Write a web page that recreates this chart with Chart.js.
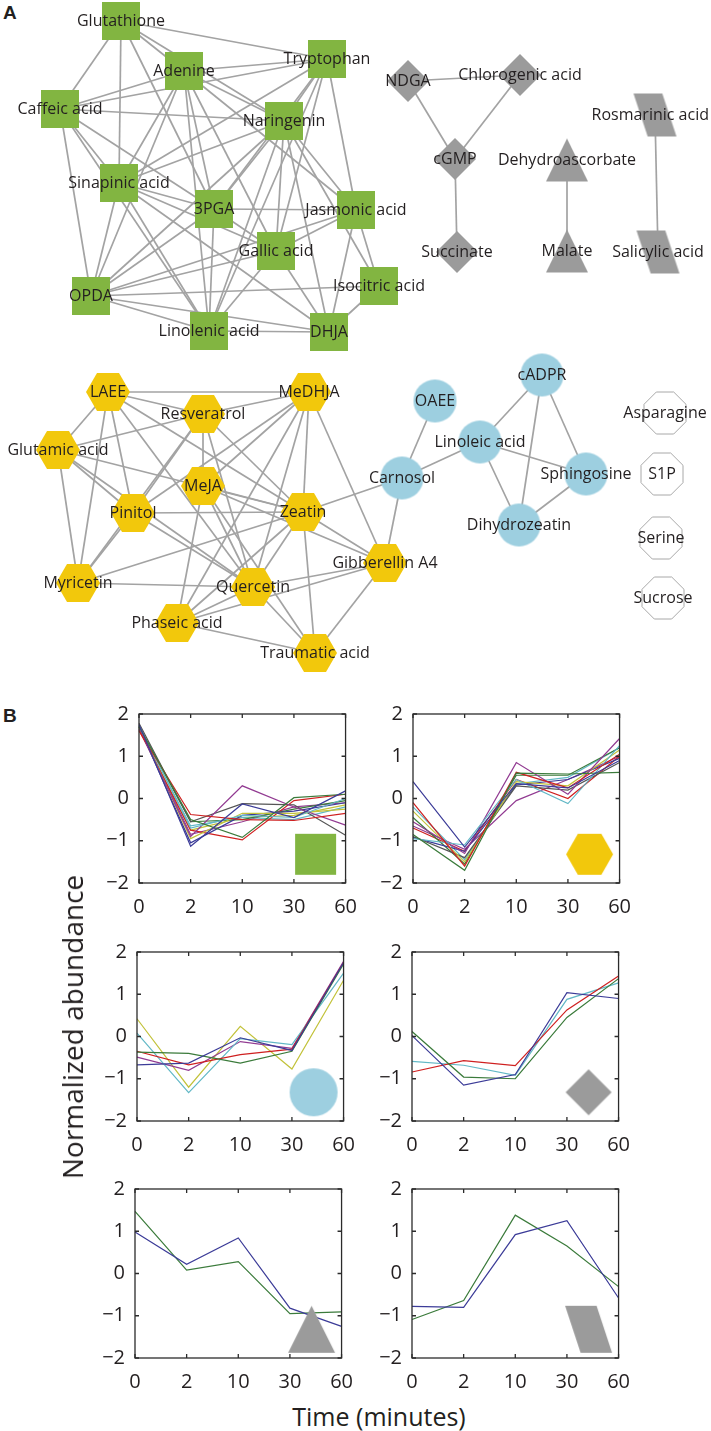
<!DOCTYPE html>
<html>
<head>
<meta charset="utf-8">
<script src="https://cdn.jsdelivr.net/npm/chart.js@4.4.0/dist/chart.umd.min.js"></script>
<style>
  body { margin: 0; background: #fff; width: 711px; height: 1431px; position: relative; overflow: hidden; font-family: "Open Sans", sans-serif; color: #231f20; }
  canvas { position: absolute; }
  .panel { position: absolute; font: bold 19px "Liberation Sans", Arial, sans-serif; line-height: 19px; }
  .axis-title { position: absolute; white-space: nowrap; transform: translate(-50%, -50%); }
</style>
</head>
<body>
<div class="panel" style="left:3px; top:3px;">A</div>
<div class="panel" style="left:3px; top:706px;">B</div>

<canvas id="network" width="711" height="690" style="left:0; top:0;"></canvas>

<canvas id="squarePanel" width="280" height="231" style="left:89px; top:692px;"></canvas>
<canvas id="hexagonPanel" width="280" height="231" style="left:363px; top:692px;"></canvas>
<canvas id="circlePanel" width="280" height="231" style="left:87px; top:930px;"></canvas>
<canvas id="diamondPanel" width="280" height="231" style="left:362px; top:930px;"></canvas>
<canvas id="trianglePanel" width="280" height="231" style="left:85px; top:1167px;"></canvas>
<canvas id="parallelogramPanel" width="280" height="231" style="left:362px; top:1167px;"></canvas>

<div class="axis-title" style="left:72px; top:1027px; font-size:28px; transform: translate(-50%, -50%) rotate(-90deg);">Normalized abundance</div>
<div class="axis-title" style="left:379px; top:1416px; font-size:25px;">Time (minutes)</div>

<script>
// ---- Panel A: network nodes (layout coordinates) and edges ----
const nodeNames = [
    'Glutathione', 'Adenine', 'Tryptophan', 'Caffeic acid', 'Naringenin', 'Sinapinic acid', '3PGA',
    'Jasmonic acid', 'Gallic acid', 'OPDA', 'Isocitric acid', 'Linolenic acid', 'DHJA',
    'NDGA', 'Chlorogenic acid', 'cGMP', 'Succinate',
    'Dehydroascorbate', 'Malate',
    'Rosmarinic acid', 'Salicylic acid',
    'LAEE', 'Resveratrol', 'MeDHJA', 'Glutamic acid', 'MeJA', 'Pinitol', 'Zeatin', 'Myricetin',
    'Quercetin', 'Phaseic acid', 'Gibberellin A4', 'Traumatic acid',
    'OAEE', 'cADPR', 'Linoleic acid', 'Carnosol', 'Sphingosine', 'Dihydrozeatin',
    'Asparagine', 'S1P', 'Serine', 'Sucrose'
];
const nodeX = [
    121, 184, 327, 60, 284, 119, 214,
    356, 276, 91, 379, 209, 329,
    408, 520, 455, 457,
    567, 567,
    655, 658,
    108, 203, 309, 58, 203, 133, 303, 78,
    253, 177, 385, 315,
    435, 542, 480, 402, 586, 519,
    665, 662, 661, 663
];
const nodeY = [
    21, 71, 59, 109, 121, 183, 209,
    210, 251, 296, 286, 331, 332,
    81, 75, 159, 252,
    160, 251,
    115, 252,
    392, 414, 392, 450, 486, 513, 512, 583,
    587, 623, 563, 653,
    401, 375, 442, 478, 474, 525,
    413, 474, 538, 598
];
const nodeGroup = [
    'square', 'square', 'square', 'square', 'square', 'square', 'square',
    'square', 'square', 'square', 'square', 'square', 'square',
    'diamond', 'diamond', 'diamond', 'diamond',
    'triangle', 'triangle',
    'parallelogram', 'parallelogram',
    'hexagon', 'hexagon', 'hexagon', 'hexagon', 'hexagon', 'hexagon', 'hexagon', 'hexagon',
    'hexagon', 'hexagon', 'hexagon', 'hexagon',
    'circle', 'circle', 'circle', 'circle', 'circle', 'circle',
    'octagon', 'octagon', 'octagon', 'octagon'
];
const edges = [
    ['Glutathione', 'Tryptophan'], ['Glutathione', 'Adenine'], ['Glutathione', 'Naringenin'],
    ['Glutathione', 'Caffeic acid'], ['Glutathione', 'Sinapinic acid'], ['Glutathione', '3PGA'],
    ['Adenine', 'Tryptophan'], ['Adenine', 'Caffeic acid'], ['Adenine', 'Naringenin'],
    ['Adenine', 'Sinapinic acid'], ['Adenine', '3PGA'], ['Adenine', 'Gallic acid'],
    ['Adenine', 'Jasmonic acid'], ['Adenine', 'OPDA'], ['Adenine', 'Linolenic acid'],
    ['Tryptophan', 'Caffeic acid'], ['Tryptophan', 'Naringenin'], ['Tryptophan', 'Sinapinic acid'],
    ['Tryptophan', '3PGA'], ['Tryptophan', 'Gallic acid'], ['Tryptophan', 'Jasmonic acid'],
    ['Tryptophan', 'Linolenic acid'],
    ['Caffeic acid', 'Naringenin'], ['Caffeic acid', 'Sinapinic acid'], ['Caffeic acid', '3PGA'],
    ['Caffeic acid', 'OPDA'], ['Caffeic acid', 'Linolenic acid'],
    ['Naringenin', 'Sinapinic acid'], ['Naringenin', '3PGA'], ['Naringenin', 'Gallic acid'],
    ['Naringenin', 'Jasmonic acid'], ['Naringenin', 'OPDA'], ['Naringenin', 'Linolenic acid'],
    ['Naringenin', 'DHJA'], ['Naringenin', 'Isocitric acid'],
    ['Sinapinic acid', '3PGA'], ['Sinapinic acid', 'Gallic acid'], ['Sinapinic acid', 'OPDA'],
    ['Sinapinic acid', 'Linolenic acid'], ['Sinapinic acid', 'DHJA'],
    ['3PGA', 'Jasmonic acid'], ['3PGA', 'Gallic acid'], ['3PGA', 'OPDA'], ['3PGA', 'Linolenic acid'],
    ['Jasmonic acid', 'Gallic acid'], ['Jasmonic acid', 'OPDA'], ['Jasmonic acid', 'Isocitric acid'],
    ['Jasmonic acid', 'DHJA'],
    ['Gallic acid', 'OPDA'], ['Gallic acid', 'Linolenic acid'], ['Gallic acid', 'DHJA'],
    ['OPDA', 'Linolenic acid'], ['OPDA', 'DHJA'], ['OPDA', 'Isocitric acid'],
    ['Linolenic acid', 'DHJA'], ['DHJA', 'Isocitric acid'],

    ['NDGA', 'Chlorogenic acid'], ['NDGA', 'cGMP'], ['Chlorogenic acid', 'cGMP'], ['cGMP', 'Succinate'],
    ['Dehydroascorbate', 'Malate'], ['Rosmarinic acid', 'Salicylic acid'],

    ['LAEE', 'MeDHJA'], ['LAEE', 'Resveratrol'], ['LAEE', 'Glutamic acid'], ['LAEE', 'Pinitol'],
    ['LAEE', 'Myricetin'], ['LAEE', 'Zeatin'], ['LAEE', 'Quercetin'],
    ['Resveratrol', 'MeDHJA'], ['Resveratrol', 'Glutamic acid'], ['Resveratrol', 'MeJA'],
    ['Resveratrol', 'Pinitol'], ['Resveratrol', 'Myricetin'], ['Resveratrol', 'Zeatin'],
    ['Resveratrol', 'Quercetin'],
    ['MeDHJA', 'MeJA'], ['MeDHJA', 'Pinitol'], ['MeDHJA', 'Zeatin'], ['MeDHJA', 'Quercetin'],
    ['MeDHJA', 'Phaseic acid'], ['MeDHJA', 'Gibberellin A4'],
    ['Glutamic acid', 'Pinitol'], ['Glutamic acid', 'Myricetin'], ['Glutamic acid', 'Zeatin'],
    ['Glutamic acid', 'Quercetin'],
    ['MeJA', 'Zeatin'], ['MeJA', 'Quercetin'], ['MeJA', 'Phaseic acid'], ['MeJA', 'Gibberellin A4'],
    ['MeJA', 'Traumatic acid'],
    ['Pinitol', 'Zeatin'], ['Pinitol', 'Quercetin'], ['Pinitol', 'Myricetin'],
    ['Zeatin', 'Myricetin'], ['Zeatin', 'Quercetin'], ['Zeatin', 'Phaseic acid'],
    ['Zeatin', 'Traumatic acid'], ['Zeatin', 'Gibberellin A4'], ['Zeatin', 'Carnosol'],
    ['Myricetin', 'Quercetin'],
    ['Quercetin', 'Phaseic acid'], ['Quercetin', 'Gibberellin A4'], ['Quercetin', 'Traumatic acid'],
    ['Phaseic acid', 'Traumatic acid'], ['Phaseic acid', 'Gibberellin A4'],
    ['Traumatic acid', 'Gibberellin A4'], ['Gibberellin A4', 'Carnosol'],

    ['OAEE', 'Carnosol'], ['Carnosol', 'Linoleic acid'], ['Linoleic acid', 'cADPR'],
    ['Linoleic acid', 'Sphingosine'], ['Linoleic acid', 'Dihydrozeatin'], ['cADPR', 'Sphingosine'],
    ['cADPR', 'Dihydrozeatin'], ['Sphingosine', 'Dihydrozeatin']
];

// ---- Panel B: normalized abundance time courses ----
const timeLabels = ['0', '2', '10', '30', '60'];

const squareSeries = [
    [1.75, -1.13, -0.13, -0.45, 0.18],
    [1.70, -0.50, -0.92, 0.02, 0.10],
    [1.60, -0.38, -0.50, -0.52, -0.35],
    [1.72, -0.70, -0.40, -0.45, 0.00],
    [1.65, -0.90, 0.30, -0.20, -0.63],
    [1.70, -0.95, -0.35, -0.35, -0.25],
    [1.78, -0.55, -0.12, -0.15, -0.87],
    [1.70, -1.05, -0.40, -0.30, -0.10],
    [1.72, -0.55, -0.50, -0.25, -0.05],
    [1.62, -0.75, -0.98, -0.05, 0.10],
    [1.70, -0.65, -0.45, -0.50, -0.20],
    [1.68, -0.85, -0.55, -0.20, -0.10],
    [1.66, -0.75, -0.45, -0.40, -0.15]
];
const hexagonSeries = [
    [0.40, -1.15, 0.35, 0.25, 0.90],
    [-0.85, -1.70, 0.60, 0.58, 0.62],
    [-0.10, -1.60, 0.62, 0.25, 1.05],
    [-0.95, -1.10, 0.45, -0.12, 1.25],
    [-0.55, -1.30, 0.85, 0.10, 1.42],
    [-0.30, -1.50, 0.40, 0.30, 1.15],
    [-0.90, -1.40, 0.30, 0.20, 0.85],
    [-0.92, -1.25, 0.32, 0.45, 0.95],
    [-0.45, -1.55, 0.55, 0.55, 1.20],
    [-0.70, -1.25, 0.45, 0.00, 1.00],
    [-0.20, -1.45, 0.35, 0.50, 1.20],
    [-0.65, -1.20, -0.05, 0.45, 1.00]
];
const circleSeries = [
    [-0.67, -0.63, -0.03, -0.33, 1.75],
    [-0.37, -0.40, -0.63, -0.35, 1.72],
    [-0.35, -0.67, -0.43, -0.30, 1.75],
    [0.08, -1.33, -0.05, -0.19, 1.50],
    [-0.49, -0.80, -0.12, -0.28, 1.78],
    [0.42, -1.20, 0.24, -0.77, 1.33]
];
const diamondSeries = [
    [0.02, -1.15, -0.90, 1.04, 0.90],
    [0.12, -0.96, -1.00, 0.45, 1.37],
    [-0.84, -0.57, -0.69, 0.63, 1.43],
    [-0.59, -0.68, -0.92, 0.88, 1.27]
];
const triangleSeries = [
    [0.98, 0.22, 0.84, -0.82, -1.25],
    [1.47, 0.08, 0.28, -0.95, -0.91]
];
const parallelogramSeries = [
    [-0.78, -0.80, 0.92, 1.25, -0.58],
    [-1.09, -0.64, 1.38, 0.65, -0.31]
];

// MATLAB-like default line colour order
const lineColors = ['#3c3c98', '#3b7b3b', '#cf2020', '#62b8c6', '#923b92', '#c2c23a', '#555555'];

const fillColors = {
    square: '#82b541',
    hexagon: '#f2c80c',
    circle: '#9dcfe0',
    diamond: '#9b9b9b',
    triangle: '#9b9b9b',
    parallelogram: '#9b9b9b',
    octagon: '#ffffff'
};

// Build a node glyph on a small canvas so it can be used as a point style
function shapeCanvas(kind, w, h) {
    const c = document.createElement('canvas');
    c.width = w + 2;
    c.height = h + 2;
    const ctx = c.getContext('2d');
    ctx.translate(1, 1);
    let pts = null;
    ctx.beginPath();
    if (kind === 'square') {
        ctx.rect(0, 0, w, h);
    } else if (kind === 'circle') {
        ctx.arc(w / 2, h / 2, w / 2, 0, Math.PI * 2);
    } else if (kind === 'hexagon') {
        pts = [[0, h / 2], [w / 4, 0], [w * 3 / 4, 0], [w, h / 2], [w * 3 / 4, h], [w / 4, h]];
    } else if (kind === 'diamond') {
        pts = [[w / 2, 0], [w, h / 2], [w / 2, h], [0, h / 2]];
    } else if (kind === 'triangle') {
        pts = [[w / 2, 0], [w, h], [0, h]];
    } else if (kind === 'parallelogram') {
        pts = [[0, 0], [w * 0.67, 0], [w, h], [w * 0.33, h]];
    } else if (kind === 'octagon') {
        const r = w / (2 * Math.cos(Math.PI / 8));
        pts = [];
        for (let k = 0; k < 8; k++) {
            const a = Math.PI / 8 + k * Math.PI / 4;
            pts.push([w / 2 + r * Math.cos(a), h / 2 + r * Math.sin(a)]);
        }
    }
    if (pts) {
        pts.forEach((p, i) => i === 0 ? ctx.moveTo(p[0], p[1]) : ctx.lineTo(p[0], p[1]));
        ctx.closePath();
    }
    ctx.fillStyle = fillColors[kind];
    ctx.fill();
    if (kind === 'octagon') {
        ctx.strokeStyle = '#a8a8a8';
        ctx.lineWidth = 1;
        ctx.stroke();
    }
    return c;
}

const nodeGlyphs = {
    square: shapeCanvas('square', 38, 38),
    hexagon: shapeCanvas('hexagon', 44, 38),
    circle: shapeCanvas('circle', 43, 43),
    diamond: shapeCanvas('diamond', 42, 42),
    triangle: shapeCanvas('triangle', 42, 43),
    parallelogram: shapeCanvas('parallelogram', 43, 43),
    octagon: shapeCanvas('octagon', 42, 42)
};

// Write the metabolite names on top of the nodes (kept inside the canvas)
const nodeLabels = {
    id: 'nodeLabels',
    afterDatasetsDraw(chart) {
        const ctx = chart.ctx;
        const xs = chart.scales.x, ys = chart.scales.y;
        ctx.save();
        ctx.font = '16px "Open Sans"';
        ctx.fillStyle = '#231f20';
        ctx.textAlign = 'center';
        ctx.textBaseline = 'middle';
        nodeNames.forEach((name, i) => {
            const half = ctx.measureText(name).width / 2;
            const px = Math.max(half + 1, Math.min(chart.width - half - 2, xs.getPixelForValue(nodeX[i])));
            ctx.fillText(name, px, ys.getPixelForValue(nodeY[i]));
        });
        ctx.restore();
    }
};

const nodeIndex = name => nodeNames.indexOf(name);

const edgeDatasets = edges.map(([a, b]) => ({
    data: [
        { x: nodeX[nodeIndex(a)], y: nodeY[nodeIndex(a)] },
        { x: nodeX[nodeIndex(b)], y: nodeY[nodeIndex(b)] }
    ],
    showLine: true,
    borderColor: '#a3a3a3',
    borderWidth: 1.7,
    pointRadius: 0,
    order: 1
}));

new Chart(document.getElementById('network'), {
    type: 'scatter',
    data: {
        datasets: [{
            data: nodeNames.map((n, i) => ({ x: nodeX[i], y: nodeY[i] })),
            pointStyle: nodeGroup.map(g => nodeGlyphs[g]),
            pointRadius: 20,
            clip: false,
            order: 0
        }].concat(edgeDatasets)
    },
    options: {
        responsive: false,
        animation: false,
        events: [],
        layout: { padding: 0, autoPadding: false },
        plugins: { legend: { display: false }, tooltip: { enabled: false } },
        scales: {
            x: { type: 'linear', display: false, min: 0, max: 711 },
            y: { type: 'linear', display: false, min: 0, max: 690, reverse: true }
        }
    },
    plugins: [nodeLabels]
});

// Box with inward ticks on all sides, plus the group glyph in the lower right
function framePlugin(icon) {
    return {
        id: 'frame',
        afterDatasetsDraw(chart) {
            const ctx = chart.ctx;
            const a = chart.chartArea;
            const tick = 4;
            ctx.save();
            ctx.strokeStyle = '#2b2b2b';
            ctx.lineWidth = 1.3;
            ctx.strokeRect(a.left, a.top, a.right - a.left, a.bottom - a.top);
            ctx.beginPath();
            chart.scales.x.ticks.forEach((t, i) => {
                const px = chart.scales.x.getPixelForTick(i);
                ctx.moveTo(px, a.bottom); ctx.lineTo(px, a.bottom - tick);
                ctx.moveTo(px, a.top); ctx.lineTo(px, a.top + tick);
            });
            chart.scales.y.ticks.forEach((t, i) => {
                const py = chart.scales.y.getPixelForTick(i);
                ctx.moveTo(a.left, py); ctx.lineTo(a.left + tick, py);
                ctx.moveTo(a.right, py); ctx.lineTo(a.right - tick, py);
            });
            ctx.stroke();
            const cx = a.left + (a.right - a.left) * 0.855;
            const cy = a.top + (a.bottom - a.top) * 0.83;
            ctx.drawImage(icon, cx - icon.width / 2, cy - icon.height / 2);
            ctx.restore();
        }
    };
}

const tickFont = { family: 'Open Sans', size: 20 };

function createPanel(id, series, icon) {
    new Chart(document.getElementById(id), {
        type: 'line',
        data: {
            labels: timeLabels,
            datasets: series.map((vals, i) => ({
                data: vals,
                borderColor: lineColors[i % lineColors.length],
                borderWidth: 1.2,
                pointRadius: 0,
                tension: 0,
                fill: false
            }))
        },
        options: {
            responsive: false,
            animation: false,
            events: [],
            layout: { padding: { left: 0, top: 0, right: 20, bottom: 0 }, autoPadding: false },
            plugins: { legend: { display: false }, tooltip: { enabled: false } },
            scales: {
                x: {
                    grid: { display: false, drawTicks: false },
                    border: { display: false },
                    ticks: { font: tickFont, color: '#231f20', padding: 12, maxRotation: 0 },
                    afterFit: s => { s.height = 40; }
                },
                y: {
                    min: -2,
                    max: 2,
                    grid: { display: false, drawTicks: false },
                    border: { display: false },
                    ticks: {
                        stepSize: 1,
                        font: tickFont,
                        color: '#231f20',
                        padding: 10,
                        callback: v => v < 0 ? '\u2212' + Math.abs(v) : String(v)
                    },
                    afterFit: s => { s.width = 50; }
                }
            }
        },
        plugins: [framePlugin(icon)]
    });
}

createPanel('squarePanel', squareSeries, shapeCanvas('square', 41, 41));
createPanel('hexagonPanel', hexagonSeries, shapeCanvas('hexagon', 47, 41));
createPanel('circlePanel', circleSeries, shapeCanvas('circle', 48, 48));
createPanel('diamondPanel', diamondSeries, shapeCanvas('diamond', 46, 46));
createPanel('trianglePanel', triangleSeries, shapeCanvas('triangle', 47, 47));
createPanel('parallelogramPanel', parallelogramSeries, shapeCanvas('parallelogram', 47, 47));
</script>
</body>
</html>
